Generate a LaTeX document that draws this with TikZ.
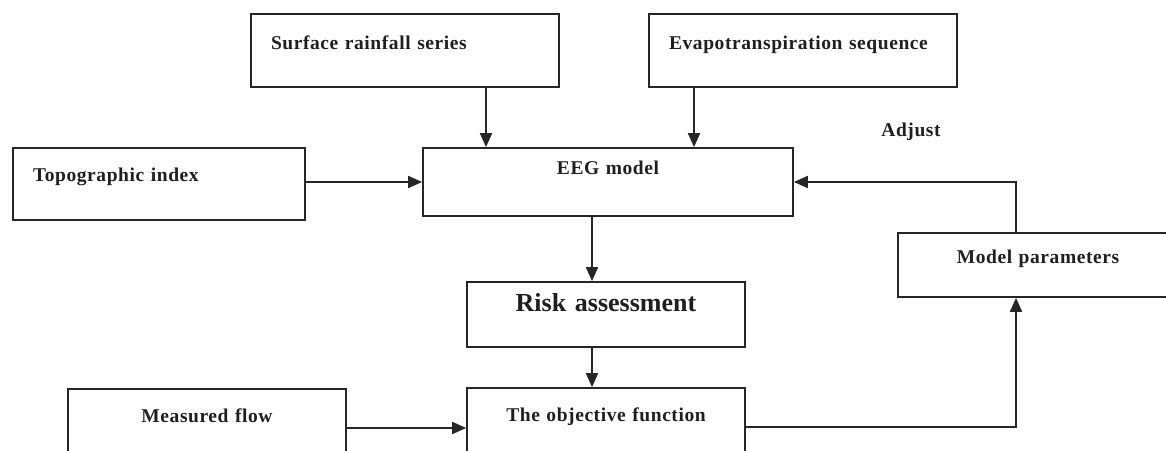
\documentclass[tikz,border=0pt]{standalone}
\usepackage{fontspec}
\setmainfont{Liberation Serif}
\newfontfamily\tf{Liberation Serif}[LetterSpace=3]
\newfontfamily\tfr{Liberation Serif}
\usetikzlibrary{arrows.meta}
\tikzset{
  box/.style={draw=black!85, line width=1.7pt, fill=white, inner ysep=0pt,
    text height=13pt, font=\tf\bfseries\fontsize{19.5}{22}\selectfont, text=black!88},
  lbox/.style={box, inner xsep=20pt, align=left},
  cbox/.style={box, align=center, inner xsep=0pt},
  arr/.style={draw=black!85, line width=1.7pt, -{Triangle[length=14pt,width=12pt]}},
  lbl/.style={font=\tf\bfseries\fontsize{19.5}{22}\selectfont, text=black!88, inner sep=0pt}
}
\begin{document}
\begin{tikzpicture}[x=1pt, y=-1pt]
\useasboundingbox (0,0) rectangle (1166,450);
\clip (0,0) rectangle (1166,450);
\fill[white] (0,0) rectangle (1166,450);

\node[lbox, text width=268pt, minimum height=73pt, text depth=16pt] (surf) at (405,50.5) {Surface rainfall series};
\node[lbox, text width=268pt, minimum height=73pt, text depth=16pt] (evap) at (803,50.5) {Evapotranspiration sequence};
\node[lbox, text width=252pt, minimum height=72pt, text depth=19pt] (topo) at (159,184) {Topographic index};
\node[cbox, text width=370pt, minimum height=68pt, text depth=29pt] (eeg) at (608,182) {EEG model};
\node[cbox, text width=278pt, minimum height=65pt, text height=17pt, text depth=24pt, font=\tfr\bfseries\fontsize{26}{28}\selectfont] (risk) at (606,314.5) {Risk assessment};
\node[cbox, text width=278pt, minimum height=66pt, text depth=13pt] (obj) at (606,421) {The objective function};
\node[cbox, text width=278pt, minimum height=66pt, text depth=13pt] (meas) at (207,422) {Measured flow};
\node[cbox, text width=280pt, minimum height=64pt, text depth=17pt] (model) at (1038,265) {Model parameters};
\node[lbl] (adj) at (911,132) {Adjust};

\draw[arr] ([xshift=81pt]surf.south) -- ([xshift=81pt]surf.south |- eeg.north);
\draw[arr] ([xshift=-109pt]evap.south) -- ([xshift=-109pt]evap.south |- eeg.north);
\draw[arr] (topo.east |- eeg.west) -- (eeg.west);
\draw[arr] ([xshift=-22pt]model.north) |- (eeg.east);
\draw[arr] ([xshift=-16pt]eeg.south) -- ([xshift=-16pt]eeg.south |- risk.north);
\draw[arr] ([xshift=-14pt]risk.south) -- ([xshift=-14pt]risk.south |- obj.north);
\draw[arr] ([yshift=-6pt]meas.east) -- ([yshift=-6pt]meas.east -| obj.west);
\draw[arr] ([yshift=-6pt]obj.east) -| ([xshift=-22pt]model.south);
\end{tikzpicture}
\end{document}
